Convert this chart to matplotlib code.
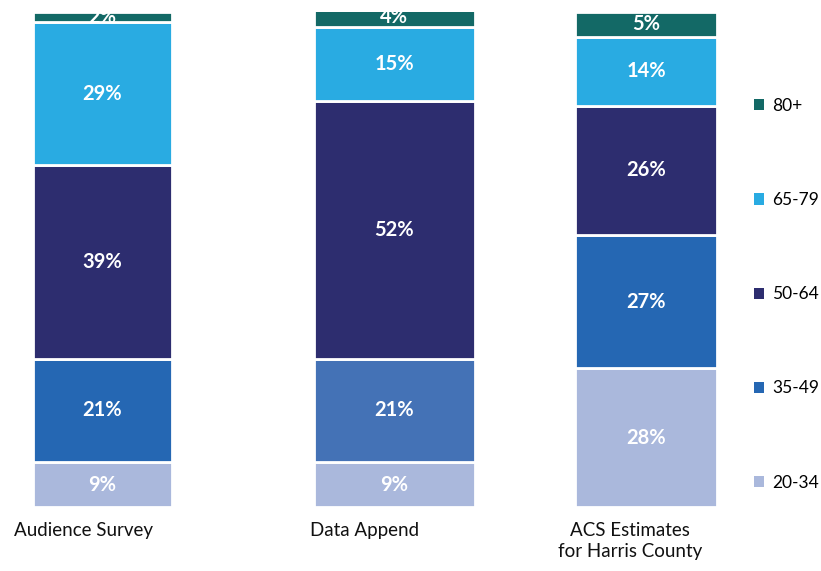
import matplotlib
matplotlib.use("Agg")
import matplotlib.pyplot as plt
import numpy as np
from matplotlib.patches import Patch

plt.rcParams["font.family"] = ["Lato", "DejaVu Sans"]

sources = ["Audience Survey", "Data Append", "ACS Estimates\nfor Harris County"]
age_groups = ["20-34", "35-49", "50-64", "65-79", "80+"]
shares = {
    "20-34": [9, 9, 28],
    "35-49": [21, 21, 27],
    "50-64": [39, 52, 26],
    "65-79": [29, 15, 14],
    "80+": [2, 4, 5],
}

colors = {
    "20-34": ["#aab8dc", "#aab8dc", "#aab8dc"],
    "35-49": ["#2567b3", "#4472b6", "#2567b3"],
    "50-64": ["#2d2d6f", "#2d2d6f", "#2d2d6f"],
    "65-79": ["#29abe2", "#29abe2", "#29abe2"],
    "80+": ["#136966", "#136966", "#136966"],
}

# layout in pixel units along x
bar_centers = [102.5, 394, 646]
bar_widths = [139, 161, 142]
label_centers = [83, 365, 630]

W, H = 821, 571
fig = plt.figure(figsize=(W / 100, H / 100), dpi=100)
ax = fig.add_axes([0, 1 - 507 / H, 1, 495 / H])
ax.set_xlim(0, W)
ax.set_ylim(0, 100)
ax.axis("off")

bottom = np.zeros(len(sources))
for grp in age_groups:
    vals = np.array(shares[grp], dtype=float)
    ax.bar(bar_centers, vals, width=bar_widths, bottom=bottom,
           color=colors[grp], edgecolor="white", linewidth=2)
    for x, b, v in zip(bar_centers, bottom, vals):
        ax.text(x, b + v / 2, f"{int(v)}%", ha="center", va="center",
                color="white", fontsize=14.5, fontweight="bold")
    bottom += vals

for x, name in zip(label_centers, sources):
    fig.text(x / W, 1 - 522 / H, name, ha="center", va="top",
             fontsize=13.5, color="#111111", linespacing=1.3)

handles = [Patch(facecolor=colors[g][0], edgecolor="none") for g in age_groups[::-1]]
fig.legend(handles, age_groups[::-1], loc="upper left",
           bbox_to_anchor=(754 / W, 1 - 98 / H), frameon=False,
           fontsize=12.5, handlelength=0.6, handleheight=0.6,
           handletextpad=0.45, labelspacing=4.5, borderpad=0,
           borderaxespad=0)

fig.savefig("out.png", dpi=100)
